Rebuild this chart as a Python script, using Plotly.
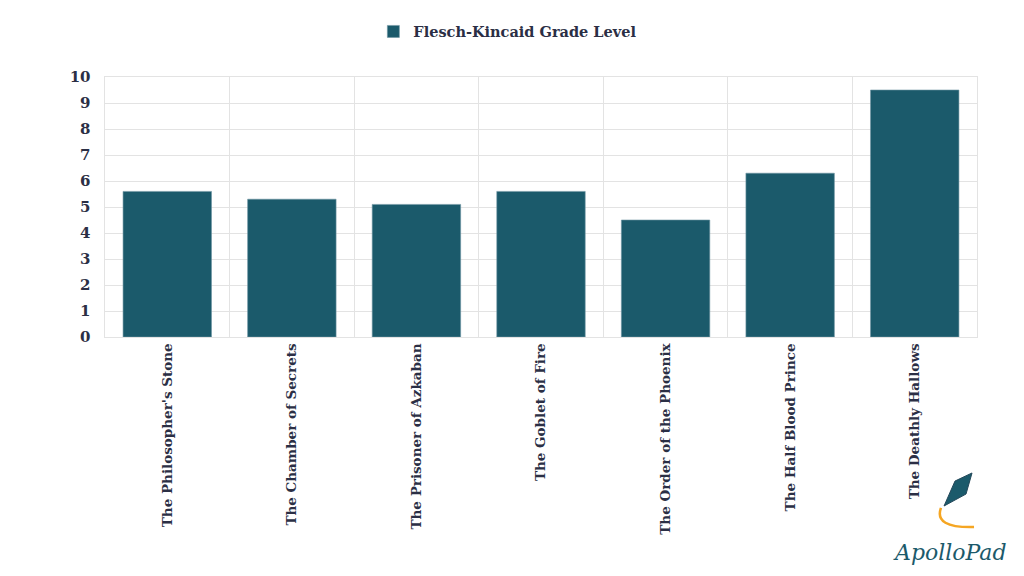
import plotly.graph_objects as go

# Data
books = ["The Philosopher's Stone", "The Chamber of Secrets", "The Prisoner of Azkaban",
         "The Goblet of Fire", "The Order of the Phoenix", "The Half Blood Prince",
         "The Deathly Hallows"]
grade_level = [5.6, 5.3, 5.1, 5.6, 4.5, 6.3, 9.5]

text_col = "#2b2f45"
grid_col = "#e3e3e3"
teal = "#1b5a6b"

fig = go.Figure()
fig.add_trace(go.Bar(x=books, y=grade_level, name="Flesch-Kincaid Grade Level",
                     marker=dict(color=teal, line=dict(color="#6f96a3", width=0.6))))

# page body adds ~8px offset, so the figure is a bit smaller than the window
fig.update_layout(
    width=1016, height=568,
    paper_bgcolor="white", plot_bgcolor="white",
    margin=dict(l=97, r=47, t=69, b=239, autoexpand=False),
    bargap=0.29,
    font=dict(family="DejaVu Serif", color=text_col),
    showlegend=True,
    legend=dict(orientation="h", x=0.462, xanchor="center", y=1.175, yanchor="middle",
                font=dict(size=14.5, family="DejaVu Serif", weight="bold")),
    xaxis=dict(tickson="boundaries", showgrid=True, gridcolor=grid_col,
               showline=True, linecolor=grid_col, mirror=True, ticks="",
               automargin=False,
               tickangle=-90, tickfont=dict(size=13.5, color=text_col, weight=600)),
    yaxis=dict(range=[0, 10], dtick=1, showgrid=True, gridcolor=grid_col,
               showline=True, linecolor=grid_col, mirror=True, ticks="",
               zeroline=False, ticksuffix="  ", automargin=False,
               tickfont=dict(size=15, color=text_col, weight="bold")),
)

# ApolloPad logo (approximation)
fig.add_shape(type="path", xref="paper", yref="paper",
              path="M 0.9943,-0.523 L 0.9874,-0.604 L 0.9622,-0.650 L 0.9748,-0.554 Z",
              fillcolor=teal, line=dict(color="#24485a", width=1))
fig.add_shape(type="path", xref="paper", yref="paper",
              path="M 0.9587,-0.657 Q 0.950,-0.735 0.9966,-0.731",
              line=dict(color="#f5a623", width=2.5))
fig.add_annotation(text="ApolloPad", xref="paper", yref="paper", x=0.969, y=-0.83,
                   xanchor="center", yanchor="middle", showarrow=False,
                   font=dict(family="DejaVu Serif", size=22, color=teal, style="italic"))

fig.write_html("out.html")
